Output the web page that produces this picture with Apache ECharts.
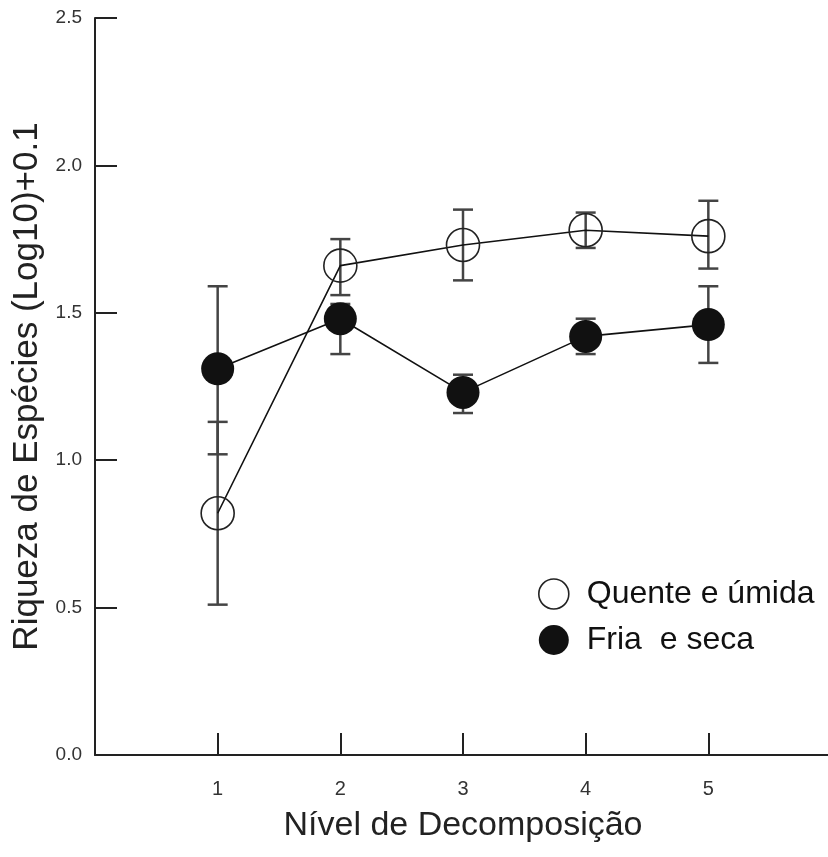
<!DOCTYPE html>
<html>
<head>
<meta charset="utf-8">
<script src="https://cdn.jsdelivr.net/npm/echarts@6/dist/echarts.min.js"></script>
<style>html,body{margin:0;padding:0;background:#fff}#c{width:828px;height:857px}</style>
</head>
<body>
<div id="c"></div>
<script>
const levels = [1, 2, 3, 4, 5];
const quenteMean = [0.82, 1.66, 1.73, 1.78, 1.76];
const quenteLow  = [0.51, 1.56, 1.61, 1.72, 1.65];
const quenteHigh = [1.13, 1.75, 1.85, 1.84, 1.88];
const friaMean = [1.31, 1.48, 1.23, 1.42, 1.46];
const friaLow  = [1.02, 1.36, 1.16, 1.36, 1.33];
const friaHigh = [1.59, 1.53, 1.29, 1.48, 1.59];
const yTicks = ['0.0', '0.5', '1.0', '1.5', '2.0', '2.5'];
const names = ['Quente e úmida', 'Fria  e seca'];

const chart = echarts.init(document.getElementById('c'));
const FONT = 'Liberation Sans, Arial, sans-serif';

function errData(lo, hi) {
  return levels.map((x, i) => [x, lo[i], hi[i]]);
}
function errRender(params, api) {
  const x = api.value(0);
  const p1 = api.coord([x, api.value(1)]);
  const p2 = api.coord([x, api.value(2)]);
  const hw = 10;
  const st = { stroke: '#444', lineWidth: 2.5 };
  return {
    type: 'group',
    children: [
      { type: 'line', shape: { x1: p1[0], y1: p1[1], x2: p2[0], y2: p2[1] }, style: st },
      { type: 'line', shape: { x1: p1[0] - hw, y1: p1[1], x2: p1[0] + hw, y2: p1[1] }, style: st },
      { type: 'line', shape: { x1: p2[0] - hw, y1: p2[1], x2: p2[0] + hw, y2: p2[1] }, style: st }
    ]
  };
}

chart.setOption({
  animation: false,
  backgroundColor: '#fff',
  grid: { left: 95, right: -3, top: 18, bottom: 102, outerBoundsMode: 'none', containLabel: false },
  legend: {
    orient: 'vertical',
    left: 533,
    top: 573,
    itemWidth: 30,
    itemHeight: 30,
    itemGap: 14,
    icon: 'circle',
    textStyle: { fontFamily: FONT, fontSize: 32, color: '#111', padding: [0, 0, 0, 13] },
    data: [
      { name: names[0], itemStyle: { color: '#fff', borderColor: '#222', borderWidth: 1.6 } },
      { name: names[1], itemStyle: { color: '#111' } }
    ]
  },
  xAxis: {
    type: 'value',
    min: 0, max: 6, interval: 1,
    name: 'Nível de Decomposição',
    nameLocation: 'middle',
    nameGap: 54,
    nameTextStyle: { fontFamily: FONT, fontSize: 34, color: '#222' },
    axisLine: { lineStyle: { color: '#222', width: 2 } },
    axisTick: { inside: true, length: 22, lineStyle: { color: '#222', width: 2 } },
    axisLabel: {
      margin: 24, fontFamily: FONT, fontSize: 20, color: '#333',
      formatter: v => (levels.indexOf(v) >= 0 ? String(v) : '')
    },
    splitLine: { show: false }
  },
  yAxis: {
    type: 'value',
    min: 0, max: 2.5, interval: 0.5,
    name: 'Riqueza de Espécies (Log10)+0.1',
    nameLocation: 'middle',
    nameGap: 46,
    nameTextStyle: { fontFamily: FONT, fontSize: 35, color: '#222' },
    axisLine: { show: true, lineStyle: { color: '#222', width: 2 } },
    axisTick: { show: true, inside: true, length: 22, lineStyle: { color: '#222', width: 2 } },
    axisLabel: {
      margin: 13, fontFamily: FONT, fontSize: 19, color: '#333',
      formatter: v => yTicks[Math.round(v / 0.5)]
    },
    splitLine: { show: false }
  },
  series: [
    {
      type: 'custom', name: 'errQ', z: 1,
      renderItem: errRender, data: errData(quenteLow, quenteHigh),
      encode: { x: 0, y: [1, 2] }, silent: true
    },
    {
      type: 'custom', name: 'errF', z: 1,
      renderItem: errRender, data: errData(friaLow, friaHigh),
      encode: { x: 0, y: [1, 2] }, silent: true
    },
    {
      type: 'line', name: names[0], z: 3,
      data: levels.map((x, i) => [x, quenteMean[i]]),
      symbol: 'circle', symbolSize: 33,
      itemStyle: { color: 'rgba(255,255,255,0)', borderColor: '#222', borderWidth: 1.6 },
      lineStyle: { color: '#111', width: 1.6 }
    },
    {
      type: 'line', name: names[1], z: 3,
      data: levels.map((x, i) => [x, friaMean[i]]),
      symbol: 'circle', symbolSize: 33,
      itemStyle: { color: '#111', borderColor: '#111', borderWidth: 0 },
      lineStyle: { color: '#111', width: 1.6 }
    }
  ]
});
</script>
</body>
</html>
